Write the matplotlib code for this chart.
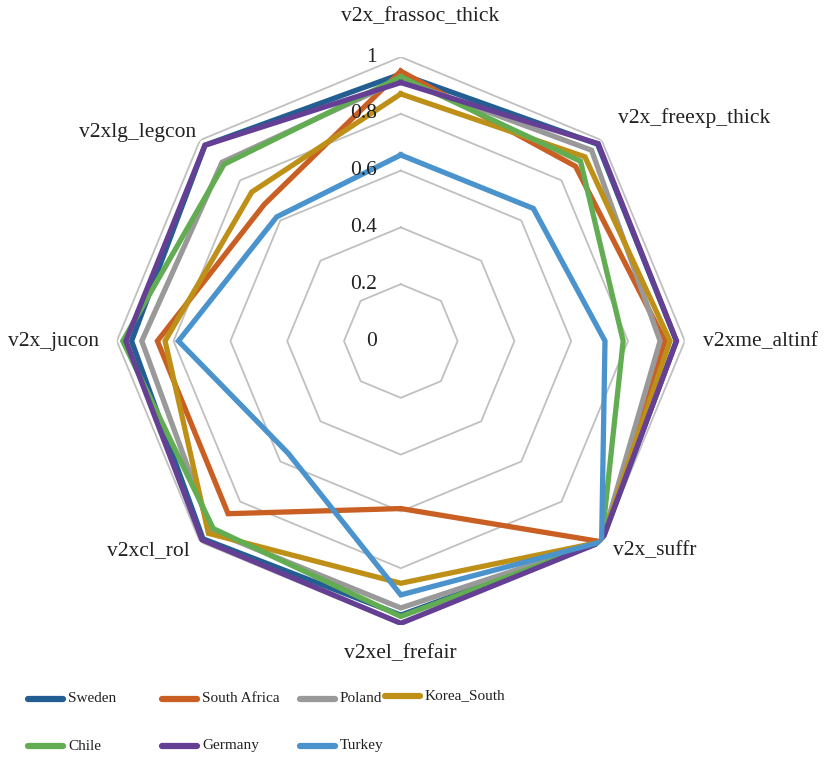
import numpy as np
import matplotlib
matplotlib.use("Agg")
import matplotlib.pyplot as plt
import matplotlib.transforms as mtransforms
from matplotlib.lines import Line2D

plt.rcParams['font.family'] = ['Liberation Serif', 'DejaVu Serif']

# Indicator axes, clockwise from the top
indicators = ["v2x_frassoc_thick", "v2x_freexp_thick", "v2xme_altinf", "v2x_suffr",
              "v2xel_frefair", "v2xcl_rol", "v2x_jucon", "v2xlg_legcon"]

countries = ["Sweden", "South Africa", "Poland", "Korea_South", "Chile", "Germany", "Turkey"]
colors = ["#235E92", "#C95F22", "#999999", "#BE9017", "#62AD52", "#643F94", "#4A93CD"]

sweden       = [0.94, 0.98, 0.97, 1.00, 0.965, 0.985, 0.948, 0.975]
south_africa = [0.95, 0.87, 0.93, 1.00, 0.59, 0.86, 0.857, 0.68]
poland       = [0.92, 0.95, 0.913, 1.00, 0.94, 0.945, 0.912, 0.89]
korea_south  = [0.87, 0.917, 0.948, 1.00, 0.853, 0.958, 0.83, 0.742]
chile        = [0.93, 0.895, 0.783, 1.00, 0.97, 0.934, 0.979, 0.88]
germany      = [0.91, 0.983, 0.971, 1.00, 0.994, 0.99, 0.968, 0.975]
turkey       = [0.655, 0.66, 0.719, 1.00, 0.894, 0.56, 0.783, 0.618]
series = [sweden, south_africa, poland, korea_south, chile, germany, turkey]

grid_levels = [0.2, 0.4, 0.6, 0.8, 1.0]
tick_values = [0.0, 0.2, 0.4, 0.6, 0.8, 1.0]
tick_labels = ["0", "0.2", "0.4", "0.6", "0.8", "1"]

W, H = 826, 760
fig = plt.figure(figsize=(W / 100, H / 100), dpi=100)
cx, cy, R = 400.8, 341.0, 284.0
ax = fig.add_axes([(cx - R) / W, (H - cy - R) / H, 2 * R / W, 2 * R / H], projection='polar')
ax.set_theta_offset(np.pi / 2)
ax.set_theta_direction(-1)
ax.set_ylim(0, 1)
ax.grid(False)
ax.spines['polar'].set_visible(False)
ax.set_xticks([])
ax.set_yticks([])
ax.patch.set_visible(False)

n = len(indicators)
theta = np.arange(n) * 2 * np.pi / n
theta_closed = np.append(theta, theta[0])

# Octagonal grid
for lv in grid_levels:
    ax.plot(theta_closed, [lv] * (n + 1), color="#C0C0C0", lw=1.3, zorder=1)

# Radial value labels
off = mtransforms.ScaledTranslation(-24 / 100, 0, fig.dpi_scale_trans)
for lv, lab in zip(tick_values, tick_labels):
    ax.text(0, lv, lab, transform=ax.transData + off, ha='right', va='center',
            fontsize=15.5, color="#222222", zorder=5)

# Country polygons
for vals, col in zip(series, colors):
    ax.plot(theta_closed, list(vals) + [vals[0]], color=col, lw=3.8, zorder=3,
            solid_joinstyle='miter')

# Indicator labels (figure pixel positions)
label_pos = [(420, 17, 'center'), (618, 118, 'left'), (703, 342, 'left'), (613, 551, 'left'),
             (400, 654, 'center'), (190, 551, 'right'), (99, 342, 'right'), (196, 133, 'right')]
for name, (x, y, ha) in zip(indicators, label_pos):
    fig.text(x / W, 1 - y / H, name, ha=ha, va='center', fontsize=15.5, color="#222222")

# Legend
legend_pos = [(28, 699), (162, 699), (300, 699), (385, 696), (28, 746), (162, 746), (300, 746)]
for name, col, (x, y) in zip(countries, colors, legend_pos):
    fig.add_artist(Line2D([x / W, (x + 35) / W], [1 - y / H, 1 - y / H], color=col, lw=4.5,
                          solid_capstyle='round', transform=fig.transFigure))
    fig.text((x + 40) / W, 1 - y / H, name, ha='left', va='center', fontsize=11,
             color="#222222")

fig.savefig("out.png", dpi=100)
